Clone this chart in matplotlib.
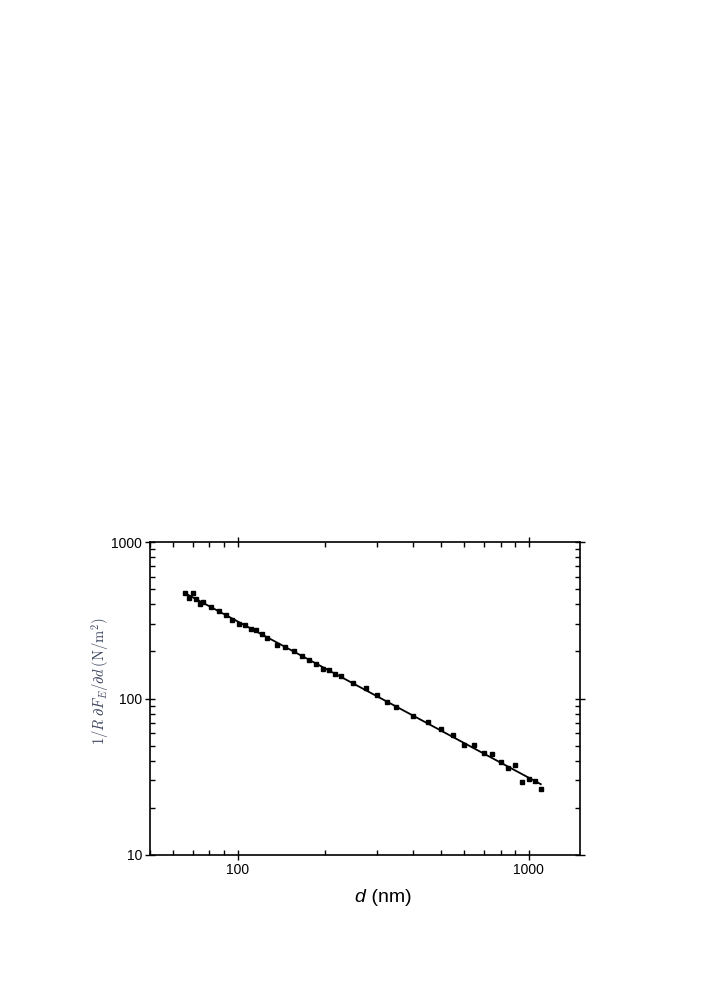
import numpy as np
import matplotlib
matplotlib.use("Agg")
import matplotlib.pyplot as plt
from matplotlib.ticker import LogLocator, NullFormatter, FixedLocator, FixedFormatter

plt.rcParams['font.family'] = ['Liberation Sans', 'DejaVu Sans']
plt.rcParams['mathtext.fontset'] = 'cm'

# Data
d_nm = [66, 68, 70, 72, 74, 76, 81, 86, 91, 96, 101, 106, 111, 116, 121, 126,
        136, 146, 156, 166, 176, 186, 196, 206, 216, 226, 250, 275, 300, 325,
        350, 400, 450, 500, 550, 600, 650, 700, 750, 800, 850, 900, 950, 1000,
        1050, 1100]
force_grad = [470, 436, 470, 432, 400, 416, 385, 363, 344, 318, 300, 295, 278,
              274, 257, 244, 221, 214, 200, 188, 177, 167, 155, 152, 144, 140,
              126, 117.5, 106, 94.3, 87.6, 76.8, 70.6, 64.2, 58.7, 50.4, 50.7,
              45.0, 43.9, 39.2, 36.1, 37.8, 29.1, 30.4, 29.5, 26.4]

x_ticks = [100, 1000]
x_ticklabels = ["100", "1000"]
y_ticks = [10, 100, 1000]
y_ticklabels = ["10", "100", "1000"]

fig = plt.figure(figsize=(7.08, 10.02), dpi=100)
ax = fig.add_axes([150/708, 1-855/1002, 430/708, 313/1002])

d = np.array(d_nm, dtype=float)
v = np.array(force_grad, dtype=float)
coef = np.polyfit(np.log10(d), np.log10(v), 1)
xf = np.array([d.min(), d.max()])
yf = 10**np.polyval(coef, np.log10(xf))

ax.plot(xf, yf, color='black', lw=1.3, zorder=2)
ax.plot(d, v, ls='none', marker='s', ms=3.2, color='black', mec='black', zorder=3)

ax.set_xscale('log')
ax.set_yscale('log')
ax.set_xlim(50, 1500)
ax.set_ylim(10, 1000)

ax.xaxis.set_major_locator(FixedLocator(x_ticks))
ax.xaxis.set_major_formatter(FixedFormatter(x_ticklabels))
ax.yaxis.set_major_locator(FixedLocator(y_ticks))
ax.yaxis.set_major_formatter(FixedFormatter(y_ticklabels))
ax.xaxis.set_minor_locator(LogLocator(base=10, subs=np.arange(2, 10), numticks=20))
ax.yaxis.set_minor_locator(LogLocator(base=10, subs=np.arange(2, 10), numticks=20))
ax.xaxis.set_minor_formatter(NullFormatter())
ax.yaxis.set_minor_formatter(NullFormatter())

ax.tick_params(which='major', direction='inout', length=7, width=1.0,
               top=True, right=True, labelsize=10, pad=2)
ax.tick_params(which='minor', direction='in', length=3.5, width=1.0,
               top=True, right=True)
for s in ax.spines.values():
    s.set_linewidth(1.2)

fig.text(365/708, 1-897/1002, 'd', fontsize=14, style='italic', ha='right', va='center')
fig.text(366/708, 1-897/1002, ' (nm)', fontsize=14, ha='left', va='center')

fig.text(100/708, 1-681/1002,
         r'$1/R\ \partial F_E/\partial d\,(\mathrm{N}/\mathrm{m}^2)$',
         rotation=90, ha='center', va='center', fontsize=10.5, color='#3d4560')

fig.savefig('out.png', dpi=100)
